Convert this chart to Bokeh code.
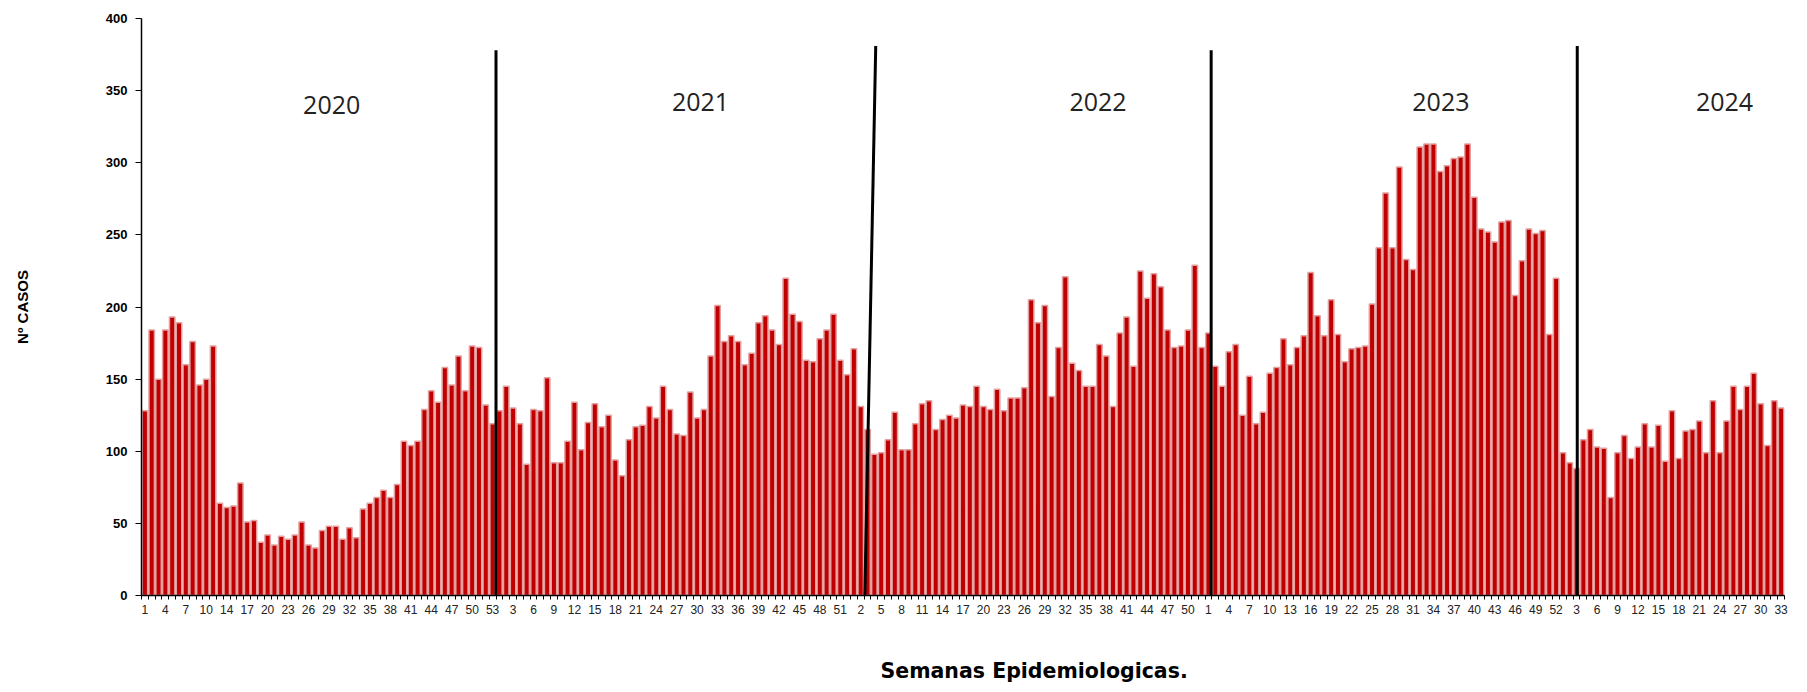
from bokeh.plotting import figure
from bokeh.models import Range1d, FixedTicker, ColumnDataSource, Title, LinearAxis
from bokeh.core.properties import value
from bokeh.embed import file_html
from bokeh.resources import INLINE

# ---------------- data ----------------
years = ["2020", "2021", "2022", "2023", "2024"]

weeks_2020 = list(range(1, 13)) + list(range(14, 54))   # 52 reported weeks
weeks_2021 = list(range(1, 53))
weeks_2022 = list(range(1, 53))
weeks_2023 = list(range(1, 53))
weeks_2024 = list(range(1, 34))

cases_2020 = [128, 184, 150, 184, 193, 189, 160, 176, 146, 150,
              173, 64, 61, 62, 78, 51, 52, 37, 42, 35,
              41, 39, 42, 51, 35, 33, 45, 48, 48, 39,
              47, 40, 60, 64, 68, 73, 68, 77, 107, 104,
              107, 129, 142, 134, 158, 146, 166, 142, 173, 172,
              132, 119]
cases_2021 = [128, 145, 130, 119, 91, 129, 128, 151, 92, 92,
              107, 134, 101, 120, 133, 117, 125, 94, 83, 108,
              117, 118, 131, 123, 145, 129, 112, 111, 141, 123,
              129, 166, 201, 176, 180, 176, 160, 168, 189, 194,
              184, 174, 220, 195, 190, 163, 162, 178, 184, 195,
              163, 153]
cases_2022 = [171, 131, 115, 98, 99, 108, 127, 101, 101, 119,
              133, 135, 115, 122, 125, 123, 132, 131, 145, 131,
              129, 143, 128, 137, 137, 144, 205, 189, 201, 138,
              172, 221, 161, 156, 145, 145, 174, 166, 131, 182,
              193, 159, 225, 206, 223, 214, 184, 172, 173, 184,
              229, 172]
cases_2023 = [182, 159, 145, 169, 174, 125, 152, 119, 127, 154,
              158, 178, 160, 172, 180, 224, 194, 180, 205, 181,
              162, 171, 172, 173, 202, 241, 279, 241, 297, 233,
              226, 311, 313, 313, 294, 298, 303, 304, 313, 276,
              254, 252, 245, 259, 260, 208, 232, 254, 251, 253,
              181, 220]
cases_2024 = [99, 92, 88, 108, 115, 103, 102, 68, 99, 111,
              95, 103, 119, 103, 118, 93, 128, 95, 114, 115,
              121, 99, 135, 99, 121, 145, 129, 145, 154, 133,
              104, 135, 130]

y_ticks = [0, 50, 100, 150, 200, 250, 300, 350, 400]

# annotations (year dividers and year captions), in category / case units
divider_x0 = [52.5, 106.6, 157.4, 211.1]
divider_x1 = [52.5, 108.2, 157.4, 211.1]
divider_top = [378, 381, 378, 381]
year_label_x = [28.4, 82.5, 140.8, 191.1, 232.7]
year_label_y = [340, 342, 342, 342, 342]

# ---------------- build ----------------
week_labels = weeks_2020 + weeks_2021 + weeks_2022 + weeks_2023 + weeks_2024
cases = cases_2020 + cases_2021 + cases_2022 + cases_2023 + cases_2024
n = len(cases)
xs = list(range(1, n + 1))

p = figure(width=1800, height=688,
           x_range=Range1d(0.5, n + 0.5), y_range=Range1d(0, 400),
           output_backend="svg", toolbar_location=None,
           min_border_left=141, min_border_right=16,
           min_border_top=18, min_border_bottom=93)
p.title.visible = False
p.xgrid.visible = False
p.ygrid.visible = False
p.outline_line_color = None
p.background_fill_color = "white"
p.border_fill_color = "white"

src = ColumnDataSource(dict(x=xs, top=cases))
p.vbar(x="x", top="top", bottom=0, width=0.8, source=src,
       fill_color="#C00000", line_color="#E3A0A0", line_width=1.5)

# year dividers
p.segment(x0=divider_x0, y0=[0] * 4, x1=divider_x1, y1=divider_top,
          line_color="black", line_width=3)

# year captions
p.text(x=year_label_x, y=year_label_y, text=years,
       text_font=value("Open Sans"), text_font_size="25px",
       text_color="#222222", text_align="center", text_baseline="middle")

# x axis
label_pos = xs[::3]
p.xaxis.ticker = FixedTicker(ticks=label_pos,
                             minor_ticks=[i + 0.5 for i in range(0, n + 1)])
p.xaxis.major_label_overrides = {i: str(week_labels[i - 1]) for i in label_pos}
p.xaxis.major_tick_out = 0
p.xaxis.major_tick_in = 0
p.xaxis.minor_tick_out = 4
p.xaxis.minor_tick_in = 0
p.xaxis.minor_tick_line_color = "black"
p.xaxis.axis_line_color = "black"
p.xaxis.axis_line_width = 1.5
p.xaxis.major_label_standoff = 5
p.xaxis.major_label_text_font = "Liberation Sans"
p.xaxis.major_label_text_font_size = "12px"
p.xaxis.major_label_text_color = "#222222"

# y axis
p.yaxis.ticker = FixedTicker(ticks=y_ticks)
p.yaxis.minor_tick_line_color = None
p.yaxis.major_tick_out = 6
p.yaxis.major_tick_in = 0
p.yaxis.axis_line_color = "black"
p.yaxis.axis_line_width = 1.5
p.yaxis.major_label_standoff = 8
p.yaxis.major_label_text_font = "Liberation Sans"
p.yaxis.major_label_text_font_style = "bold"
p.yaxis.major_label_text_font_size = "13px"
p.yaxis.major_label_text_color = "black"
p.yaxis.axis_label = "Nº CASOS"
p.yaxis.axis_label_text_font = "'Liberation Sans Narrow', 'Liberation Sans'"
p.yaxis.axis_label_text_font_style = "bold"
p.yaxis.axis_label_text_font_size = "15px"
p.yaxis.axis_label_text_color = "black"
p.yaxis.axis_label_standoff = 72

# blank spacer below the x axis, so the title sits lower
spacer = LinearAxis(ticker=FixedTicker(ticks=[1], minor_ticks=[]),
                    major_tick_out=37, major_tick_in=0,
                    axis_line_alpha=0, major_tick_line_alpha=0,
                    minor_tick_line_alpha=0, major_label_standoff=0,
                    major_label_overrides={1: ""},
                    major_label_text_font_size="1px")
p.add_layout(spacer, "below")

# x axis title (sits right of the frame middle, as in the original)
p.add_layout(Title(text="Semanas Epidemiologicas.", align="left",
                   offset=739, standoff=6,
                   text_font="DejaVu Sans", text_font_style="bold",
                   text_font_size="20.5px", text_color="black"), "below")

open("out.html", "w").write(file_html(p, INLINE))
